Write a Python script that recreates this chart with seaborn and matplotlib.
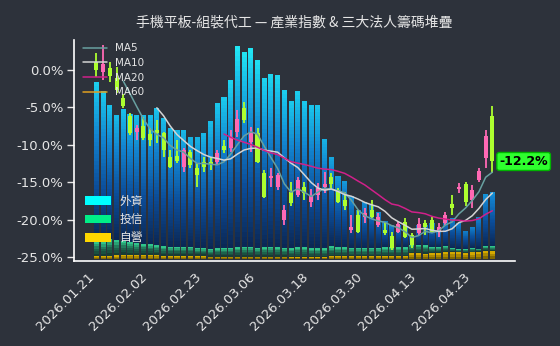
import numpy as np
import pandas as pd
import matplotlib
matplotlib.use("Agg")
import matplotlib.pyplot as plt
import seaborn as sns
from matplotlib.colors import LinearSegmentedColormap
from matplotlib.lines import Line2D
from matplotlib.patches import Patch

# ---------------- data ----------------
dates = [
    "2026.01.21", "2026.01.22", "2026.01.23", "2026.01.26", "2026.01.27", "2026.01.28", "2026.01.29", "2026.01.30",
    "2026.02.02", "2026.02.03", "2026.02.04", "2026.02.05", "2026.02.06", "2026.02.09", "2026.02.10", "2026.02.11",
    "2026.02.23", "2026.02.24", "2026.02.25", "2026.02.26", "2026.03.02", "2026.03.03", "2026.03.04", "2026.03.05",
    "2026.03.06", "2026.03.09", "2026.03.10", "2026.03.11", "2026.03.12", "2026.03.13", "2026.03.16", "2026.03.17",
    "2026.03.18", "2026.03.19", "2026.03.20", "2026.03.23", "2026.03.24", "2026.03.25", "2026.03.26", "2026.03.27",
    "2026.03.30", "2026.03.31", "2026.04.01", "2026.04.02", "2026.04.07", "2026.04.08", "2026.04.09", "2026.04.10",
    "2026.04.13", "2026.04.14", "2026.04.15", "2026.04.16", "2026.04.17", "2026.04.20", "2026.04.21", "2026.04.22",
    "2026.04.23", "2026.04.24", "2026.04.27", "2026.04.28",
]

opens = [1.11, -0.23, 0.23, -1.11, -3.73, -6.13, -8.23, -7.47, -8.53, -8.00,
         -8.40, -11.56, -11.47, -12.89, -10.89, -13.11, -12.23, -12.31, -12.23, -10.13,
         -10.44, -8.23, -5.11, -9.56, -8.44, -13.77, -14.44, -15.56, -20.00, -16.23,
         -16.67, -15.56, -17.56, -16.67, -15.56, -14.23, -16.00, -17.33, -21.33, -19.33,
         -19.56, -18.67, -20.67, -21.33, -22.13, -21.56, -20.23, -22.00, -21.77, -20.44,
         -20.00, -21.67, -20.36, -17.87, -15.93, -15.20, -17.33, -14.67, -11.77, -6.13]
closes = [0.00, 0.80, -0.80, -2.67, -4.80, -8.36, -7.73, -9.11, -9.33, -8.40,
          -10.67, -12.89, -12.09, -10.67, -12.67, -14.00, -12.89, -12.57, -11.11, -10.67,
          -8.89, -6.57, -6.67, -8.44, -12.23, -16.89, -14.13, -14.00, -18.67, -17.77,
          -14.67, -16.44, -16.80, -15.77, -15.20, -15.20, -17.56, -18.09, -20.89, -21.56,
          -19.11, -19.56, -19.56, -21.77, -23.77, -20.53, -22.27, -23.33, -20.53, -20.89,
          -21.56, -21.00, -19.40, -18.44, -15.60, -17.60, -16.00, -13.53, -8.80, -12.20]
highs = [2.23, 3.33, 1.11, 0.44, -3.20, -5.73, -7.33, -6.27, -7.73, -6.67,
         -8.27, -10.67, -9.33, -10.40, -10.67, -12.40, -11.56, -11.56, -10.67, -9.33,
         -8.00, -5.33, -4.23, -7.64, -7.77, -13.33, -13.11, -13.69, -18.00, -14.89,
         -14.23, -14.89, -15.91, -15.03, -13.56, -13.77, -15.77, -16.23, -19.33, -18.67,
         -18.44, -17.33, -19.11, -20.23, -21.56, -20.23, -19.77, -21.77, -19.77, -20.00,
         -19.56, -20.44, -18.89, -16.67, -15.11, -14.89, -15.33, -13.11, -8.00, -4.80]
lows = [-0.89, -1.33, -1.56, -3.11, -5.07, -8.67, -9.33, -9.33, -10.13, -9.73,
        -11.60, -13.07, -12.40, -13.56, -13.07, -15.56, -13.56, -13.33, -12.53, -11.11,
        -10.89, -8.89, -7.11, -10.89, -12.44, -17.11, -15.56, -16.00, -20.67, -18.13,
        -16.89, -17.33, -18.23, -17.33, -16.44, -16.00, -17.77, -18.67, -21.77, -21.77,
        -20.44, -19.77, -20.89, -22.00, -24.00, -21.77, -22.44, -23.77, -22.00, -22.00,
        -21.77, -22.23, -20.67, -19.33, -16.47, -18.13, -18.40, -14.89, -13.11, -13.77]

# 三大法人籌碼 (stacked, arbitrary units)
foreign = [21.28, 20.17, 17.91, 16.67, 17.52, 17.07, 17.03, 17.16, 17.20, 18.35,
           17.11, 15.83, 15.60, 15.56, 14.67, 14.80, 15.33, 17.07, 19.37, 20.13,
           22.40, 26.80, 25.96, 26.49, 25.07, 22.57, 23.03, 22.97, 21.07, 19.60,
           20.80, 19.47, 19.07, 19.07, 14.53, 11.91, 9.47, 8.80, 6.93, 5.07,
           6.13, 5.73, 4.80, 3.47, 2.93, 2.93, 2.67, 1.29, 2.63, 2.71,
           3.24, 2.27, 3.51, 4.00, 3.47, 2.40, 2.80, 4.23, 6.97, 7.24]
trust = [1.96, 1.87, 2.27, 2.08, 1.87, 1.69, 1.60, 1.47, 1.43, 1.25,
         1.25, 1.16, 1.16, 1.20, 1.16, 1.03, 1.03, 1.03, 1.12, 1.16,
         1.16, 1.29, 1.33, 1.33, 1.16, 1.25, 1.33, 1.25, 1.16, 1.24,
         1.37, 1.37, 1.24, 1.24, 1.24, 1.33, 1.24, 1.24, 1.11, 1.11,
         1.11, 1.11, 1.11, 1.24, 1.24, 1.24, 1.24, 1.11, 1.11, 1.12,
         0.72, 0.80, 0.76, 0.53, 0.40, 0.53, 0.57, 0.44, 0.59, 0.67]
dealer = [0.40, 0.40, 0.40, 0.49, 0.57, 0.57, 0.57, 0.57, 0.57, 0.57,
          0.44, 0.44, 0.44, 0.44, 0.44, 0.44, 0.44, 0.31, 0.31, 0.31,
          0.31, 0.31, 0.31, 0.31, 0.31, 0.31, 0.31, 0.31, 0.31, 0.23,
          0.23, 0.23, 0.23, 0.23, 0.23, 0.36, 0.36, 0.36, 0.36, 0.36,
          0.36, 0.36, 0.36, 0.36, 0.36, 0.36, 0.36, 0.80, 0.80, 0.71,
          0.84, 0.80, 0.93, 0.93, 0.93, 0.80, 0.89, 0.93, 1.11, 1.03]

chip_labels = ["外資", "投信", "自營"]
ma_windows = [5, 10, 20, 60]
yticks = [0, -5, -10, -15, -20, -25]
title = "手機平板-組裝代工 — 產業指數 & 三大法人籌碼堆疊"

# ---------------- style ----------------
BG = "#2d323b"
FG = "#e6e6e6"
sns.set_theme(style="dark", rc={
    "axes.facecolor": BG, "figure.facecolor": BG, "savefig.facecolor": BG,
    "axes.edgecolor": "white", "text.color": FG,
    "xtick.color": FG, "ytick.color": FG, "axes.grid": False,
})
plt.rcParams["font.family"] = ["DejaVu Sans", "Noto Sans CJK TC"]

UP, DOWN = "#ff69b4", "#adff2f"
MA_COLORS = ["#68a0a0", "#d4d4d4", "#d0208a", "#e0a020"]

fig = plt.figure(figsize=(5.6, 3.46), dpi=100)
ax = fig.add_axes([0.1321, 0.2457, 0.7875, 0.6387])
ax2 = ax.twinx()
ax.set_zorder(ax2.get_zorder() + 1)
ax.patch.set_visible(False)
ax2.patch.set_visible(False)

x = np.arange(len(closes))
foreign_a = np.array(foreign); trust_a = np.array(trust); dealer_a = np.array(dealer)

# ---------------- stacked gradient bars ----------------
cm_f = LinearSegmentedColormap.from_list("f", [(0, "#0b2754"), (0.3, "#0b4c98"), (0.6, "#1283cf"),
                                               (0.85, "#19c2ea"), (1, "#22e8f4")])
cm_t = LinearSegmentedColormap.from_list("t", ["#15352e", "#1f6a52", "#33d696"])
cm_d = LinearSegmentedColormap.from_list("d", ["#6e5a00", "#e8b800"])

BW = 0.76

def grad_bars(axis, bottoms, heights, cmap, nseg, scale):
    for k in range(nseg):
        f = (k + 0.5) / nseg
        cols = [cmap(min(1.0, f * s)) for s in scale]
        axis.bar(x, heights / nseg, bottom=bottoms + heights * k / nseg, width=BW,
                 color=cols, linewidth=0)

ones = np.ones(len(x))
grad_bars(ax2, np.zeros(len(x)), dealer_a, cm_d, 3, ones)
grad_bars(ax2, dealer_a, trust_a, cm_t, 6, ones)
fscale = 0.55 + 0.45 * foreign_a / foreign_a.max()
grad_bars(ax2, dealer_a + trust_a, foreign_a, cm_f, 40, fscale)
ax2.set_ylim(-0.267, 29.2)
ax2.set_yticks([])
for s in ax2.spines.values():
    s.set_visible(False)

# ---------------- candles ----------------
o = np.array(opens); c = np.array(closes); h = np.array(highs); l = np.array(lows)
cols = [UP if cc >= oo else DOWN for oo, cc in zip(o, c)]
ax.vlines(x, l, h, colors=cols, linewidth=1.3, zorder=3)
ax.bar(x, c - o, bottom=o, width=0.6, color=cols, linewidth=0, zorder=4)

# ---------------- moving averages ----------------
df = pd.DataFrame({"x": x, "close": c})
handles = []
for w, col in zip(ma_windows, MA_COLORS):
    name = f"MA{w}"
    df[name] = df["close"].rolling(w).mean()
    sub = df.dropna(subset=[name])
    if len(sub):
        sns.lineplot(data=sub, x="x", y=name, ax=ax, color=col, linewidth=1.1, zorder=5, legend=False)
    handles.append(Line2D([], [], color=col, linewidth=1.1, label=name))

leg1 = ax.legend(handles=handles, loc="upper left", bbox_to_anchor=(0.02, 0.985),
                 frameon=False, fontsize=7.5, handlelength=2.3, handletextpad=0.8,
                 labelspacing=0.45, borderpad=0, borderaxespad=0, labelcolor=FG)
ax.add_artist(leg1)

chip_handles = [Patch(facecolor=cc, edgecolor="none", label=lb)
                for cc, lb in zip(["#00ffff", "#00ee88", "#ffd700"], chip_labels)]
ax.legend(handles=chip_handles, loc="lower left", bbox_to_anchor=(0.025, 0.075),
          frameon=False, fontsize=8.5, handlelength=2.2, handleheight=0.75,
          handletextpad=0.7, labelspacing=0.45, borderpad=0, borderaxespad=0, labelcolor=FG)

# last value tag
ax.annotate(f"{closes[-1]:.1f}%", xy=(x[-1], closes[-1]), xytext=(5, 0),
            textcoords="offset points", ha="left", va="center", fontsize=9,
            fontweight="bold", color="black", annotation_clip=False, zorder=6,
            bbox=dict(boxstyle="round,pad=0.2", fc="#2eff2e", ec="#00b400", lw=1))

# ---------------- axes ----------------
ax.set_xlim(-3.35, 62.37)
ax2.set_xlim(-3.35, 62.37)
ax.set_ylim(-25.47, 4.0)
ax.set_yticks(yticks)
ax.set_yticklabels([f"{v:.1f}%" for v in yticks])
tick_idx = list(range(0, len(dates), 8))
ax.set_xticks(tick_idx)
ax.set_xticklabels([dates[i] for i in tick_idx], rotation=45, ha="right")
ax.set_xlabel(""); ax.set_ylabel("")
ax.tick_params(axis="y", length=5, width=1, pad=2.5, labelsize=9.5, colors=FG)
ax.tick_params(axis="x", length=4, width=1, pad=3, labelsize=9.5, colors=FG)
for side in ["top", "right"]:
    ax.spines[side].set_visible(False)
for side in ["left", "bottom"]:
    ax.spines[side].set_color("white")
    ax.spines[side].set_linewidth(1.2)

fig.text(0.526, 1 - 23 / 346, title, ha="center", va="center", fontsize=10, color=FG,
         family=["Noto Sans CJK TC", "DejaVu Sans"])

fig.savefig("out.png", dpi=100, facecolor=BG)
